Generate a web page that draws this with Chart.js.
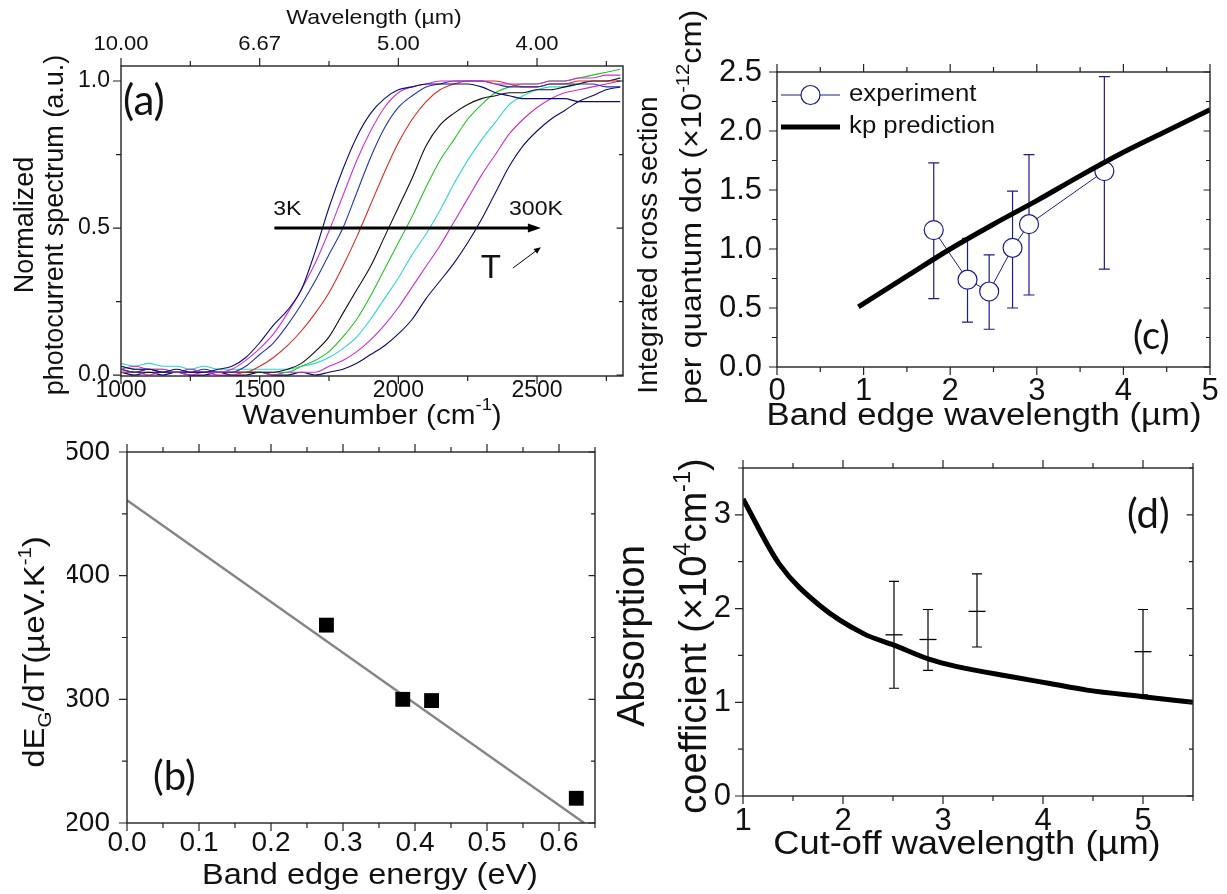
<!DOCTYPE html>
<html>
<head>
<meta charset="utf-8">
<script src="https://cdn.jsdelivr.net/npm/chart.js@4.4.1/dist/chart.umd.min.js"></script>
<style>
  body { margin: 0; background: #fff; }
  #wrap { position: relative; width: 1227px; height: 894px; }
  canvas { position: absolute; left: 0; top: 0; }
</style>
</head>
<body>
<div id="wrap">
  <canvas id="chartA" width="1227" height="894"></canvas>
  <canvas id="chartB" width="1227" height="894"></canvas>
  <canvas id="chartC" width="1227" height="894"></canvas>
  <canvas id="chartD" width="1227" height="894"></canvas>
</div>
<script>
// ---- (a) normalized photocurrent spectra, 3K (left) to 300K (right)
const wavenumbers = [1000,1050,1100,1150,1200,1250,1300,1350,1400,1450,1500,1550,1600,1650,1700,1750,1800,1850,1900,1950,2000,2050,2100,2150,2200,2250,2300,2350,2400,2450,2500,2550,2600,2650,2700,2750,2800];
const spec1 = [0.03,0.02,0.02,0.01,0.02,0.01,0.01,0.02,0.03,0.06,0.11,0.17,0.22,0.29,0.42,0.57,0.70,0.81,0.89,0.94,0.97,0.98,0.99,0.99,0.99,0.99,0.98,0.96,0.95,0.94,0.94,0.94,0.94,0.93,0.93,0.93,0.93];
const spec2 = [0.02,0.03,0.02,0.02,0.01,0.02,0.01,0.01,0.02,0.05,0.09,0.14,0.21,0.29,0.38,0.49,0.61,0.73,0.83,0.91,0.96,0.98,0.99,1.00,1.00,1.00,1.00,0.99,0.99,0.99,0.99,1.00,1.00,1.01,1.01,1.02,1.02];
const spec3 = [0.02,0.01,0.02,0.01,0.01,0.01,0.02,0.01,0.01,0.03,0.07,0.11,0.17,0.24,0.32,0.41,0.50,0.62,0.74,0.84,0.91,0.95,0.98,0.99,1.00,1.00,1.00,0.99,0.98,0.98,0.98,0.99,0.99,0.99,0.99,0.98,0.98];
const spec4 = [0.01,0.01,0.02,0.01,0.01,0.01,0.01,0.01,0.01,0.01,0.03,0.06,0.10,0.15,0.21,0.28,0.37,0.47,0.58,0.69,0.79,0.87,0.93,0.97,0.99,1.00,1.00,1.00,0.99,0.98,0.98,0.99,0.99,1.00,1.00,1.00,1.00];
const spec5 = [0.02,0.01,0.01,0.01,0.01,0.01,0.01,0.01,0.01,0.01,0.01,0.01,0.02,0.04,0.08,0.13,0.21,0.29,0.37,0.47,0.57,0.67,0.78,0.85,0.89,0.92,0.94,0.95,0.96,0.96,0.97,0.97,0.98,0.99,1.00,1.00,1.01];
const spec6 = [0.03,0.02,0.02,0.02,0.01,0.02,0.01,0.01,0.01,0.01,0.01,0.01,0.01,0.03,0.05,0.08,0.13,0.19,0.27,0.36,0.45,0.54,0.64,0.73,0.80,0.87,0.92,0.96,0.98,0.99,0.99,1.00,1.00,1.01,1.02,1.03,1.04];
const spec7 = [0.04,0.03,0.04,0.03,0.03,0.02,0.03,0.02,0.02,0.02,0.02,0.02,0.02,0.03,0.04,0.06,0.09,0.13,0.19,0.26,0.33,0.41,0.48,0.56,0.65,0.73,0.80,0.86,0.92,0.95,0.97,0.98,0.98,0.99,1.00,1.00,1.01];
const spec8 = [0.01,0.01,0.00,0.01,0.01,0.00,0.01,0.00,0.00,0.01,0.01,0.00,0.01,0.01,0.01,0.03,0.05,0.08,0.12,0.17,0.23,0.30,0.37,0.44,0.52,0.60,0.68,0.75,0.82,0.87,0.91,0.94,0.96,0.97,0.98,0.99,1.00];
const spec9 = [0.01,0.00,0.01,0.00,0.01,0.00,0.00,0.01,0.00,0.00,0.01,0.00,0.00,0.01,0.00,0.01,0.02,0.04,0.07,0.10,0.14,0.19,0.26,0.32,0.38,0.45,0.53,0.62,0.71,0.78,0.83,0.87,0.90,0.93,0.95,0.97,0.98];
const spectra = [spec1, spec2, spec3, spec4, spec5, spec6, spec7, spec8, spec9];
const spectraColors = ['#0b0b7a', '#d12fd1', '#2233b5', '#e0281e', '#111111', '#22c322', '#2fd3d3', '#cc2ccc', '#0a0a6e'];
const wlTickPos = [1000, 1500, 2000, 2500];
const wlTickLabels = ['10.00', '6.67', '5.00', '4.00'];

// ---- (b) dE_G/dT vs band edge energy
const edgeEnergy = [0.277, 0.383, 0.423, 0.624];
const dEgdT = [360, 300, 299, 220];
const fitEnergy = [0, 0.635];
const fitdEgdT = [461, 200];

// ---- (c) integrated cross section
const bandEdgeWl = [1.81, 2.20, 2.45, 2.72, 2.91, 3.78];
const crossSection = [1.16, 0.74, 0.64, 1.01, 1.21, 1.66];
const crossLow = [0.58, 0.38, 0.32, 0.50, 0.61, 0.83];
const crossHigh = [1.73, 1.09, 0.95, 1.49, 1.80, 2.46];
const kpWl = [0.94, 1.5, 2, 2.5, 3, 3.5, 4, 4.5, 5];
const kpCross = [0.51, 0.77, 1.00, 1.21, 1.41, 1.62, 1.82, 2.00, 2.18];

// ---- (d) absorption coefficient
const cutoffWl = [1, 1.36, 1.77, 2.21, 2.51, 2.86, 3.14, 3.7, 4.07, 4.44, 5.0, 5.5];
const absCoef = [3.17, 2.48, 2.03, 1.73, 1.61, 1.46, 1.38, 1.27, 1.20, 1.13, 1.06, 1.0];
const measWl = [2.51, 2.85, 3.34, 5.0];
const measAbs = [1.72, 1.67, 1.97, 1.54];
const measLow = [1.15, 1.34, 1.59, 1.08];
const measHigh = [2.29, 1.99, 2.37, 1.99];

const SANS = "'Liberation Sans', Arial, sans-serif";
const CAL = "Lato, 'Open Sans', sans-serif";
const NAVY = '#1c1c8a';
Chart.defaults.font.family = SANS;
Chart.defaults.color = '#111';

const pts = (xs, ys) => xs.map((x, i) => ({ x: x, y: ys[i] }));
const pix = (chart, v, axis) => chart.scales[axis].getPixelForValue(v);

function drawText(chart, L) {
  const ctx = chart.ctx;
  const x = L.xv !== undefined ? pix(chart, L.xv, 'x') : L.x;
  const y = L.yv !== undefined ? pix(chart, L.yv, 'y') : L.y;
  const parts = Array.isArray(L.text) ? L.text : [L.text];
  const fam = L.family || SANS;
  const fontOf = p => (typeof p === 'string' ? L.size : L.size * 0.62) + 'px ' + fam;
  const str = p => (typeof p === 'string' ? p : p[0]);
  ctx.save();
  ctx.translate(x, y);
  if (L.rotate) ctx.rotate(-Math.PI / 2);
  ctx.scale(L.sx || 1, 1);
  let w = 0;
  parts.forEach(p => { ctx.font = fontOf(p); w += ctx.measureText(str(p)).width; });
  let cx = L.align === 'left' ? 0 : -w / 2;
  ctx.fillStyle = '#111';
  ctx.textAlign = 'left';
  ctx.textBaseline = L.baseline || 'alphabetic';
  parts.forEach(p => {
    const dy = typeof p === 'string' ? 0 : (p[1] === 'sup' ? -L.size * 0.42 : L.size * 0.22);
    ctx.font = fontOf(p);
    ctx.fillText(str(p), cx, dy);
    cx += ctx.measureText(str(p)).width;
  });
  ctx.restore();
}

const framePlugin = {
  id: 'frame',
  beforeDatasetsDraw(chart, args, o) {
    const ctx = chart.ctx;
    (o.errorBars || []).forEach(e => {
      ctx.save();
      ctx.strokeStyle = e.color;
      ctx.lineWidth = e.width;
      ctx.beginPath();
      e.x.forEach((xv, i) => {
        const x = pix(chart, xv, 'x'), y1 = pix(chart, e.low[i], 'y'), y2 = pix(chart, e.high[i], 'y');
        ctx.moveTo(x, y1); ctx.lineTo(x, y2);
        ctx.moveTo(x - e.cap, y1); ctx.lineTo(x + e.cap, y1);
        ctx.moveTo(x - e.cap, y2); ctx.lineTo(x + e.cap, y2);
      });
      ctx.stroke();
      ctx.restore();
    });
  },
  afterDraw(chart, args, o) {
    const ctx = chart.ctx, a = chart.chartArea;
    const xs = chart.scales.x, ys = chart.scales.y;
    ctx.save();
    ctx.strokeStyle = '#222';
    ctx.lineWidth = 1.4;
    ctx.strokeRect(a.left, a.top, a.right - a.left, a.bottom - a.top);
    ctx.lineWidth = 1.2;
    ctx.beginPath();
    const tickX = (vals, len) => vals.forEach(v => {
      const x = xs.getPixelForValue(v);
      ctx.moveTo(x, a.bottom); ctx.lineTo(x, a.bottom + len);
      ctx.moveTo(x, a.top); ctx.lineTo(x, a.top - len);
    });
    const tickY = (vals, len) => vals.forEach(v => {
      const y = ys.getPixelForValue(v);
      ctx.moveTo(a.left, y); ctx.lineTo(a.left - len, y);
      ctx.moveTo(a.right, y); ctx.lineTo(a.right - len * 0.8, y);
    });
    tickX(o.xMajor, 8); tickX(o.xMinor, 5);
    tickY(o.yMajor, 8); tickY(o.yMinor, 5);
    ctx.stroke();

    // arrows (data coords)
    (o.arrows || []).forEach(ar => {
      const x1 = pix(chart, ar.from[0], 'x'), y1 = pix(chart, ar.from[1], 'y');
      const x2 = pix(chart, ar.to[0], 'x'), y2 = pix(chart, ar.to[1], 'y');
      const t = Math.atan2(y2 - y1, x2 - x1), c = Math.cos(t), s = Math.sin(t);
      const bx = x2 - ar.head[0] * c, by = y2 - ar.head[0] * s;
      ctx.strokeStyle = '#000';
      ctx.fillStyle = '#000';
      ctx.lineWidth = ar.width;
      ctx.beginPath(); ctx.moveTo(x1, y1); ctx.lineTo(bx + c, by + s); ctx.stroke();
      ctx.beginPath();
      ctx.moveTo(x2, y2);
      ctx.lineTo(bx - ar.head[1] * s, by + ar.head[1] * c);
      ctx.lineTo(bx + ar.head[1] * s, by - ar.head[1] * c);
      ctx.closePath(); ctx.fill();
    });

    // legend
    if (o.legend) {
      const lg = o.legend;
      lg.items.forEach((it, i) => {
        const y = lg.y + i * lg.gap;
        ctx.strokeStyle = it.color;
        ctx.lineWidth = it.width;
        ctx.beginPath(); ctx.moveTo(lg.x, y); ctx.lineTo(lg.x + 59, y); ctx.stroke();
        if (it.circle) {
          ctx.beginPath();
          ctx.arc(lg.x + 29.5, y, it.circle, 0, Math.PI * 2);
          ctx.fillStyle = '#fff'; ctx.fill();
          ctx.lineWidth = 1.2; ctx.stroke();
        }
        drawText(chart, { text: it.label, x: lg.x + 68, y: y, size: lg.size, sx: lg.sx, align: 'left', baseline: 'middle' });
      });
    }
    ctx.restore();
    (o.texts || []).forEach(L => drawText(chart, L));
  }
};
Chart.register(framePlugin);

const YW = 60, XH = 40;
function makePanel(id, area, xr, yr, xt, yt, datasets, deco) {
  return new Chart(document.getElementById(id), {
    type: 'line',
    data: { datasets: datasets },
    options: {
      responsive: false,
      animation: false,
      devicePixelRatio: 1,
      layout: { padding: { left: area[0] - YW, top: area[1], right: 1227 - area[2], bottom: 894 - area[3] - XH } },
      plugins: { legend: { display: false }, tooltip: { enabled: false }, frame: deco },
      scales: {
        x: {
          type: 'linear', min: xr[0], max: xr[1],
          grid: { display: false, drawTicks: false }, border: { display: false },
          afterBuildTicks: s => { s.ticks = xt.major.map(v => ({ value: v })); },
          afterFit: s => { s.height = XH; },
          ticks: { autoSkip: false, maxRotation: 0, padding: xt.pad, font: { size: xt.size }, color: '#111',
                   callback: (v, i) => xt.labels[i] }
        },
        y: {
          type: 'linear', min: yr[0], max: yr[1],
          grid: { display: false, drawTicks: false }, border: { display: false },
          afterBuildTicks: s => { s.ticks = yt.major.map(v => ({ value: v })); },
          afterFit: s => { s.width = YW; },
          ticks: { autoSkip: false, padding: yt.pad, font: { size: yt.size }, color: '#111',
                   callback: (v, i) => yt.labels[i] }
        }
      }
    }
  });
}

// ---------- panel (a)
const aXMajor = [1000, 1500, 2000, 2500], aXLabels = ['1000', '1500', '2000', '2500'], aXMinor = [1250, 1750, 2250, 2750];
const aYMajor = [0, 0.5, 1.0], aYLabels = ['0.0', '0.5', '1.0'], aYMinor = [0.25, 0.75];
makePanel('chartA', [121, 66, 623, 376], [1000, 2810], [-0.003, 1.051],
  { major: aXMajor, labels: aXLabels, size: 23, pad: 1 },
  { major: aYMajor, labels: aYLabels, size: 23, pad: 11 },
  spectra.map((s, i) => ({
    data: pts(wavenumbers, s), borderColor: spectraColors[i], borderWidth: 1.1,
    pointRadius: 0, cubicInterpolationMode: 'monotone'
  })),
  {
    xMajor: aXMajor, xMinor: aXMinor, yMajor: aYMajor, yMinor: aYMinor,
    arrows: [
      { from: [1553, 0.5], to: [2514, 0.5], width: 3, head: [13, 4.5] },
      { from: [2413, 0.364], to: [2514, 0.435], width: 1, head: [7, 3] }
    ],
    texts: [
      { text: 'Wavelength (µm)', x: 374, y: 18, size: 21, sx: 1.1, baseline: 'middle' },
      ...wlTickLabels.map((t, i) => ({ text: t, xv: wlTickPos[i], y: 44, size: 21, sx: 1.05, baseline: 'middle' })),
      { text: ['Wavenumber (cm', ['-1', 'sup'], ')'], x: 372, y: 417, size: 27, sx: 1.1, baseline: 'middle' },
      { text: 'Normalized', x: 33, y: 225, size: 27, rotate: true },
      { text: 'photocurrent spectrum (a.u.)', x: 63, y: 225, size: 27, rotate: true },
      { text: '(a)', x: 123, y: 101, size: 42, family: CAL, align: 'left', baseline: 'middle' },
      { text: '3K', xv: 1549, yv: 0.544, size: 21, sx: 1.1, align: 'left' },
      { text: '300K', xv: 2399, yv: 0.544, size: 21, sx: 1.1, align: 'left' },
      { text: 'T', xv: 2297, yv: 0.33, size: 33, align: 'left' }
    ]
  });

// ---------- panel (b)
const bXMajor = [0, 0.1, 0.2, 0.3, 0.4, 0.5, 0.6], bXLabels = ['0.0', '0.1', '0.2', '0.3', '0.4', '0.5', '0.6'];
const bXMinor = [0.05, 0.15, 0.25, 0.35, 0.45, 0.55, 0.65];
const bYMajor = [200, 300, 400, 500], bYLabels = ['200', '300', '400', '500'], bYMinor = [250, 350, 450];
makePanel('chartB', [127, 452, 595, 823], [0, 0.65], [200, 500],
  { major: bXMajor, labels: bXLabels, size: 28, pad: 3 },
  { major: bYMajor, labels: bYLabels, size: 28, pad: 17 },
  [
    { data: pts(edgeEnergy, dEgdT), showLine: false, pointStyle: 'rect', pointRadius: 10.5,
      pointBackgroundColor: '#000', pointBorderColor: '#000', pointBorderWidth: 0 },
    { data: pts(fitEnergy, fitdEgdT), borderColor: '#858585', borderWidth: 2.4, pointRadius: 0 }
  ],
  {
    xMajor: bXMajor, xMinor: bXMinor, yMajor: bYMajor, yMinor: bYMinor,
    texts: [
      { text: 'Band edge energy (eV)', x: 370, y: 876, size: 29, sx: 1.12, baseline: 'middle' },
      { text: ['dE', ['G', 'sub'], '/dT(µeV.K', ['-1', 'sup'], ')'], x: 44, y: 652, size: 30, sx: 1.1, rotate: true },
      { text: '(b)', x: 153, y: 777, size: 40, family: CAL, align: 'left', baseline: 'middle' }
    ]
  });

// ---------- panel (c)
const cXMajor = [0, 1, 2, 3, 4, 5], cXLabels = ['0', '1', '2', '3', '4', '5'], cXMinor = [0.5, 1.5, 2.5, 3.5, 4.5];
const cYMajor = [0, 0.5, 1.0, 1.5, 2.0, 2.5], cYLabels = ['0.0', '0.5', '1.0', '1.5', '2.0', '2.5'];
const cYMinor = [0.25, 0.75, 1.25, 1.75, 2.25];
makePanel('chartC', [777, 72, 1210, 367], [0, 5], [0, 2.5],
  { major: cXMajor, labels: cXLabels, size: 31, pad: 6 },
  { major: cYMajor, labels: cYLabels, size: 31, pad: 15 },
  [
    { data: pts(kpWl, kpCross), borderColor: '#000', borderWidth: 5, pointRadius: 0, cubicInterpolationMode: 'monotone' },
    { data: pts(bandEdgeWl, crossSection), borderColor: NAVY, borderWidth: 1, pointRadius: 9.5,
      pointBackgroundColor: '#fff', pointBorderColor: NAVY, pointBorderWidth: 1.2 }
  ],
  {
    xMajor: cXMajor, xMinor: cXMinor, yMajor: cYMajor, yMinor: cYMinor,
    errorBars: [{ x: bandEdgeWl, low: crossLow, high: crossHigh, color: NAVY, width: 1.2, cap: 5.5 }],
    legend: { x: 781, y: 95, gap: 32, size: 23, sx: 1.12, items: [
      { label: 'experiment', color: NAVY, width: 1, circle: 9.5 },
      { label: 'kp prediction', color: '#000', width: 5 }
    ] },
    texts: [
      { text: 'Band edge wavelength (µm)', x: 984, y: 416, size: 31, sx: 1.12, baseline: 'middle' },
      { text: 'Integrated cross section', x: 657, y: 245, size: 28, rotate: true },
      { text: ['per quantum dot (×10', ['-12', 'sup'], 'cm)'], x: 701, y: 207, size: 29, sx: 1.12, rotate: true },
      { text: '(c)', x: 1133, y: 337, size: 38, family: CAL, align: 'left', baseline: 'middle' }
    ]
  });

// ---------- panel (d)
const dXMajor = [1, 2, 3, 4, 5], dXLabels = ['1', '2', '3', '4', '5'], dXMinor = [1.5, 2.5, 3.5, 4.5, 5.5];
const dYMajor = [0, 1, 2, 3], dYLabels = ['0', '1', '2', '3'], dYMinor = [0.5, 1.5, 2.5, 3.5];
makePanel('chartD', [743, 468, 1193, 796], [1, 5.5], [0, 3.5],
  { major: dXMajor, labels: dXLabels, size: 31, pad: 7 },
  { major: dYMajor, labels: dYLabels, size: 31, pad: 12 },
  [
    { data: pts(cutoffWl, absCoef), borderColor: '#000', borderWidth: 5, pointRadius: 0, cubicInterpolationMode: 'monotone' },
    { data: pts(measWl, measAbs), showLine: false, pointStyle: 'line', pointRadius: 8.5,
      pointBorderColor: '#000', pointBorderWidth: 1.3 }
  ],
  {
    xMajor: dXMajor, xMinor: dXMinor, yMajor: dYMajor, yMinor: dYMinor,
    errorBars: [{ x: measWl, low: measLow, high: measHigh, color: '#000', width: 1.2, cap: 5 }],
    texts: [
      { text: 'Cut-off wavelength (µm)', x: 967, y: 845, size: 33, sx: 1.1, baseline: 'middle' },
      { text: 'Absorption', x: 644, y: 636, size: 38, rotate: true },
      { text: ['coefficient (×10', ['4', 'sup'], 'cm', ['-1', 'sup'], ')'], x: 706, y: 636, size: 38, rotate: true },
      { text: '(d)', x: 1127, y: 515, size: 40, family: CAL, align: 'left', baseline: 'middle' }
    ]
  });
</script>
</body>
</html>
